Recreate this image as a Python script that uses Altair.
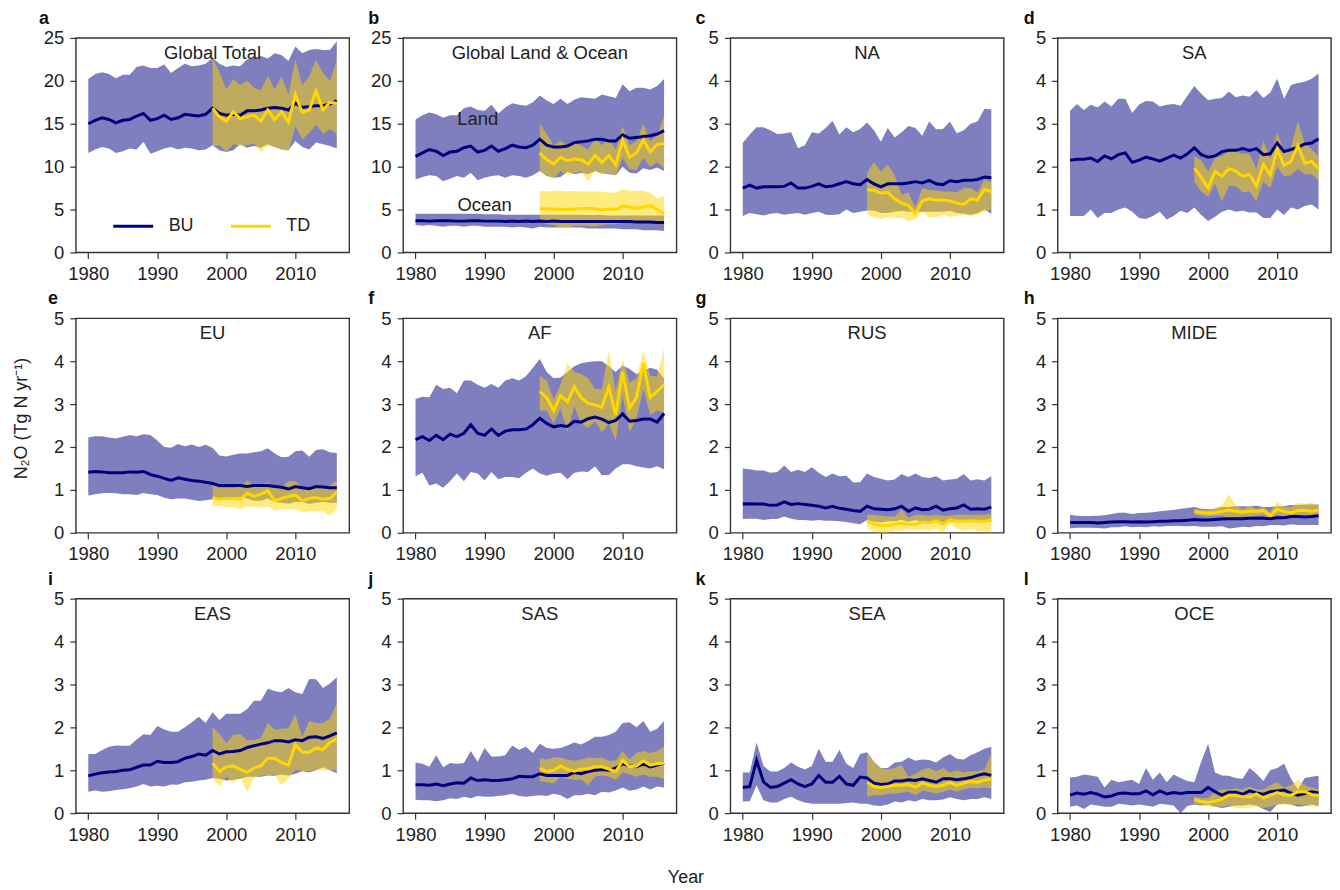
import altair as alt
import pandas as pd

years_bu = list(range(1980, 2017))
years_td = list(range(1998, 2017))

# a Global Total
a_bu = [15.0,15.4,15.7,15.5,15.1,15.4,15.5,15.9,16.2,15.4,15.6,16.0,15.5,15.7,16.1,16.0,15.9,16.1,16.8,16.2,16.0,16.1,16.0,16.5,16.5,16.6,16.8,16.9,16.8,16.6,17.4,16.9,17.0,17.1,17.1,17.3,17.7]
a_bu_hi = [20.2,20.8,21.0,20.8,20.3,20.7,20.7,21.6,21.8,21.5,21.5,21.9,20.9,21.5,22.0,21.7,21.8,22.0,22.7,22.0,21.6,21.8,21.7,22.5,22.7,22.9,22.6,23.2,23.0,22.3,24.0,23.2,23.6,23.7,23.6,23.6,24.6]
a_bu_lo = [11.6,12.0,12.3,12.1,11.6,11.8,12.1,12.0,12.9,11.5,11.8,12.1,12.3,12.0,12.2,12.1,11.9,12.0,12.5,11.9,11.7,11.9,12.6,12.2,12.4,12.2,12.6,12.3,12.0,11.9,13.0,12.3,12.0,12.8,12.6,12.4,12.1]
a_td = [16.8,15.8,15.3,16.4,15.6,15.8,16.0,15.3,16.6,15.5,16.4,15.2,18.4,16.3,16.6,18.8,16.6,17.5,17.4]
a_td_hi = [22.7,21.0,19.0,20.2,19.5,20.0,19.2,18.9,20.6,19.0,20.5,18.4,22.5,19.5,20.5,22.5,20.9,20.0,22.4]
a_td_lo = [12.4,12.5,11.7,12.6,12.4,12.5,12.7,11.7,12.4,12.3,12.0,11.8,14.7,13.2,13.9,14.9,13.8,14.4,13.8]

# b Land
bl_bu = [11.2,11.6,12.0,11.8,11.3,11.7,11.8,12.2,12.4,11.7,11.9,12.4,11.8,12.1,12.5,12.3,12.2,12.5,13.2,12.5,12.3,12.3,12.4,12.8,12.9,13.0,13.2,13.2,13.0,13.0,13.7,13.3,13.4,13.5,13.6,13.8,14.2]
bl_bu_hi = [15.5,16.0,16.3,16.1,15.7,16.0,16.0,16.8,17.0,16.6,16.5,17.2,16.2,16.9,17.4,17.2,17.1,17.5,18.3,17.7,17.3,17.9,17.3,17.8,18.1,18.0,17.9,18.4,18.2,18.0,19.6,18.8,19.2,19.2,19.0,19.4,20.2]
bl_bu_lo = [8.5,8.8,9.0,8.9,8.3,8.6,8.9,8.7,9.3,8.4,8.7,8.9,9.0,8.7,9.0,8.9,8.7,9.0,9.5,8.9,8.7,8.8,9.4,9.1,9.3,9.1,9.5,9.2,9.1,9.0,10.0,9.3,9.2,9.8,9.6,9.9,9.5]
bl_td = [11.6,10.8,10.3,11.1,10.7,10.9,10.8,10.3,11.3,10.5,11.3,10.2,13.1,11.1,11.6,13.1,11.7,12.6,12.7]
bl_td_hi = [15.0,13.8,12.5,13.0,12.5,12.9,12.5,12.0,13.3,12.5,13.3,12.0,14.7,12.5,13.0,15.0,13.0,13.6,16.0]
bl_td_lo = [9.5,9.0,8.6,9.5,9.0,9.2,9.5,8.3,9.5,9.1,9.2,9.0,11.0,9.7,9.6,11.0,10.0,10.5,9.8]

# b Ocean
bo_bu = [3.7,3.7,3.65,3.7,3.7,3.7,3.65,3.65,3.7,3.7,3.65,3.65,3.65,3.6,3.65,3.6,3.65,3.6,3.65,3.6,3.65,3.6,3.6,3.6,3.6,3.6,3.6,3.6,3.6,3.6,3.6,3.6,3.55,3.55,3.55,3.5,3.5]
bo_bu_hi = [4.5,4.5,4.5,4.5,4.5,4.5,4.5,4.5,4.5,4.5,4.45,4.45,4.45,4.4,4.4,4.4,4.4,4.4,4.4,4.4,4.4,4.4,4.4,4.4,4.4,4.35,4.35,4.35,4.3,4.3,4.3,4.3,4.3,4.3,4.3,4.3,4.3]
bo_bu_lo = [3.2,3.1,3.2,3.1,3.0,3.1,3.1,3.0,3.1,3.1,3.0,3.0,3.0,3.0,2.9,3.0,2.9,2.8,3.0,2.9,2.9,2.9,2.9,2.9,2.9,2.8,2.8,2.8,2.8,2.8,2.7,2.7,2.7,2.6,2.6,2.6,2.5]
bo_td = [5.1,5.1,5.05,5.0,5.0,5.05,5.1,5.15,5.1,4.95,5.05,5.0,5.4,5.3,5.15,5.3,5.45,5.0,4.5]
bo_td_hi = [7.2,7.1,7.2,7.2,7.1,7.2,7.1,7.1,7.1,7.1,7.0,7.0,7.4,7.2,7.2,7.2,7.0,6.3,6.6]
bo_td_lo = [3.6,3.3,3.2,2.9,2.8,3.1,3.1,3.1,3.0,3.2,3.3,3.3,3.5,3.5,3.5,3.5,3.6,3.6,3.3]

# c NA
c_bu = [1.5,1.57,1.5,1.53,1.53,1.53,1.54,1.62,1.5,1.5,1.54,1.6,1.53,1.55,1.6,1.65,1.6,1.58,1.7,1.6,1.53,1.6,1.6,1.6,1.62,1.65,1.62,1.68,1.6,1.58,1.67,1.65,1.68,1.68,1.7,1.76,1.74]
c_bu_hi = [2.55,2.75,2.92,2.92,2.85,2.76,2.77,2.8,2.43,2.5,2.8,2.77,2.9,3.07,2.75,2.92,2.8,2.88,3.03,2.85,2.58,2.9,2.68,2.8,2.95,2.9,2.72,3.05,2.87,2.88,3.05,2.78,2.85,3.0,3.05,3.35,3.33]
c_bu_lo = [0.85,0.92,0.89,0.86,0.9,0.92,0.88,0.9,0.92,0.88,0.92,0.95,0.88,0.87,0.89,1.0,0.92,0.95,0.98,0.98,0.92,0.92,0.95,0.97,0.95,0.95,0.95,0.95,0.95,0.95,0.97,0.92,0.9,0.88,0.92,1.0,0.9]
c_td = [1.46,1.45,1.38,1.4,1.25,1.15,1.1,0.9,1.2,1.25,1.22,1.22,1.2,1.15,1.12,1.25,1.22,1.47,1.42]
c_td_hi = [1.85,2.1,1.88,2.05,1.8,1.35,1.4,1.05,1.5,1.45,1.45,1.42,1.42,1.4,1.5,1.5,1.4,1.7,1.65]
c_td_lo = [0.88,0.82,0.78,0.82,0.8,0.8,0.73,0.76,0.95,0.82,0.82,0.87,0.83,0.85,0.88,0.85,0.88,0.95,1.0]

# d SA
d_bu = [2.15,2.17,2.17,2.2,2.12,2.25,2.18,2.28,2.32,2.1,2.15,2.22,2.18,2.13,2.2,2.27,2.2,2.3,2.44,2.28,2.22,2.25,2.35,2.38,2.38,2.42,2.38,2.42,2.28,2.3,2.55,2.35,2.4,2.45,2.53,2.55,2.65]
d_bu_hi = [3.3,3.46,3.32,3.44,3.38,3.52,3.4,3.58,3.58,3.25,3.45,3.53,3.52,3.4,3.44,3.46,3.42,3.65,3.88,3.7,3.55,3.58,3.6,3.75,3.62,3.66,3.63,3.78,3.6,3.72,4.05,3.58,3.9,3.95,3.98,4.05,4.17]
d_bu_lo = [0.85,0.85,0.85,1.0,0.8,0.92,0.92,1.0,1.05,0.95,0.8,0.78,0.85,0.95,0.77,0.85,0.97,0.92,1.05,0.87,0.73,0.83,0.95,1.0,0.95,0.97,0.93,0.93,0.8,0.8,1.0,0.87,1.05,1.0,1.08,1.12,1.0]
d_td = [1.97,1.75,1.5,1.88,1.78,1.95,1.9,1.78,1.82,1.55,2.05,1.8,2.4,2.03,2.12,2.5,2.08,2.12,1.95]
d_td_hi = [2.25,2.15,1.88,2.2,2.25,2.35,2.35,2.3,2.3,1.95,2.6,2.2,2.8,2.35,2.45,3.05,2.55,2.4,2.25]
d_td_lo = [1.65,1.42,1.3,1.6,1.18,1.55,1.55,1.4,1.42,1.2,1.65,1.5,2.0,1.78,1.8,1.95,1.82,1.82,1.68]

# e EU
e_bu = [1.41,1.43,1.42,1.4,1.4,1.4,1.42,1.41,1.43,1.36,1.32,1.27,1.22,1.28,1.25,1.22,1.2,1.18,1.15,1.1,1.1,1.1,1.1,1.08,1.1,1.1,1.1,1.08,1.06,1.02,1.08,1.05,1.03,1.08,1.07,1.05,1.05]
e_bu_hi = [2.22,2.25,2.25,2.22,2.2,2.24,2.28,2.25,2.3,2.28,2.15,2.0,1.98,2.07,2.02,2.06,2.0,2.05,1.98,1.8,1.78,1.82,1.85,1.85,1.88,1.9,1.97,1.85,1.76,1.77,1.9,1.92,1.77,1.93,1.95,1.88,1.86]
e_bu_lo = [0.87,0.9,0.92,0.93,0.92,0.9,0.9,0.88,0.93,0.9,0.88,0.82,0.78,0.8,0.8,0.77,0.74,0.76,0.78,0.82,0.8,0.82,0.83,0.8,0.75,0.75,0.8,0.72,0.7,0.68,0.72,0.72,0.67,0.7,0.72,0.7,0.7]
e_td = [0.82,0.78,0.8,0.8,0.78,0.92,0.85,0.9,0.98,0.75,0.8,0.85,0.88,0.75,0.8,0.82,0.78,0.8,0.95]
e_td_hi = [1.1,1.05,1.05,1.05,1.08,1.22,1.12,1.13,1.18,1.05,1.05,1.2,1.2,1.05,1.05,1.08,1.05,1.1,1.22]
e_td_lo = [0.6,0.63,0.6,0.6,0.55,0.62,0.6,0.58,0.62,0.52,0.55,0.55,0.55,0.48,0.5,0.5,0.5,0.4,0.55]

# f AF
f_bu = [2.17,2.24,2.15,2.27,2.17,2.3,2.24,2.32,2.52,2.32,2.27,2.42,2.27,2.37,2.4,2.4,2.42,2.52,2.67,2.55,2.47,2.5,2.48,2.6,2.58,2.66,2.7,2.65,2.57,2.62,2.77,2.6,2.62,2.65,2.65,2.58,2.78]
f_bu_hi = [3.12,3.17,3.16,3.45,3.35,3.38,3.25,3.55,3.55,3.45,3.38,3.47,3.38,3.55,3.6,3.55,3.65,3.85,4.05,3.75,3.6,3.62,3.75,3.88,3.95,3.98,4.0,4.0,3.88,3.75,3.9,3.82,3.7,3.78,3.85,3.8,3.6]
f_bu_lo = [1.32,1.4,1.1,1.15,1.05,1.2,1.38,1.2,1.42,1.38,1.22,1.42,1.25,1.3,1.3,1.27,1.4,1.5,1.38,1.33,1.38,1.4,1.25,1.4,1.43,1.42,1.55,1.34,1.35,1.5,1.6,1.6,1.55,1.52,1.5,1.55,1.48]
f_td = [3.3,3.15,2.85,3.2,3.05,3.4,3.15,3.02,2.98,2.93,3.4,2.75,3.75,2.9,3.15,3.95,3.15,3.3,3.45]
f_td_hi = [3.65,3.55,3.1,3.45,3.95,3.75,3.7,3.6,3.35,3.35,4.25,3.3,4.05,3.5,3.6,4.25,3.65,3.65,4.3]
f_td_lo = [2.85,2.85,2.55,2.9,2.35,2.95,2.55,2.45,2.6,2.35,2.55,2.15,3.2,2.35,2.65,3.35,2.75,2.85,2.8]

# g RUS
g_bu = [.67,.68,.67,.67,.64,.65,.72,.66,.68,.66,.64,.62,.58,.62,.57,.55,.52,.5,.62,.56,.55,.54,.56,.62,.5,.58,.54,.55,.62,.53,.56,.58,.65,.55,.56,.55,.6]
g_bu_hi = [1.5,1.48,1.45,1.45,1.4,1.42,1.57,1.42,1.47,1.42,1.53,1.4,1.3,1.38,1.32,1.33,1.17,1.18,1.38,1.3,1.26,1.22,1.24,1.37,1.3,1.38,1.3,1.28,1.32,1.22,1.24,1.26,1.37,1.22,1.25,1.22,1.32]
g_bu_lo = [.32,.33,.33,.3,.32,.32,.38,.33,.3,.3,.28,.3,.28,.28,.27,.25,.22,.2,.3,.26,.24,.27,.27,.3,.25,.3,.25,.25,.28,.25,.26,.25,.25,.25,.26,.25,.26]
g_td = [.28,.2,.17,.17,.2,.22,.2,.2,.25,.23,.28,.2,.3,.27,.27,.28,.27,.27,.3]
g_td_hi = [.42,.42,.4,.38,.38,.55,.35,.42,.42,.4,.42,.4,.4,.42,.42,.42,.42,.42,.45]
g_td_lo = [.1,.02,0,0,.05,.05,.08,.05,.08,.05,.1,0,.22,.1,.05,.08,.05,.03,0]

# h MIDE
h_bu = [.24,.24,.24,.24,.23,.24,.25,.26,.26,.25,.26,.25,.26,.27,.27,.28,.28,.29,.31,.3,.3,.31,.32,.33,.33,.33,.34,.34,.34,.33,.35,.35,.38,.38,.37,.38,.4]
h_bu_hi = [.42,.4,.39,.39,.4,.41,.44,.47,.47,.44,.46,.47,.48,.5,.52,.53,.56,.58,.6,.56,.55,.56,.6,.6,.62,.62,.62,.63,.6,.6,.62,.62,.65,.65,.66,.66,.66]
h_bu_lo = [.1,.12,.12,.12,.11,.1,.13,.13,.15,.13,.14,.13,.15,.14,.16,.16,.16,.15,.16,.14,.14,.14,.15,.1,.12,.14,.13,.16,.15,.18,.18,.17,.2,.18,.18,.18,.18]
h_td = [.5,.47,.46,.47,.5,.53,.5,.48,.5,.5,.52,.4,.55,.5,.47,.52,.52,.5,.53]
h_td_hi = [.55,.55,.52,.58,.65,.9,.65,.55,.65,.55,.6,.48,.72,.6,.6,.7,.68,.7,.65]
h_td_lo = [.42,.4,.38,.4,.4,.35,.36,.38,.38,.4,.42,.32,.42,.38,.38,.38,.38,.38,.42]

# i EAS
i_bu = [.87,.91,.94,.96,.97,1.0,1.01,1.07,1.12,1.12,1.21,1.18,1.18,1.2,1.28,1.32,1.38,1.35,1.46,1.38,1.43,1.44,1.46,1.53,1.57,1.61,1.64,1.69,1.69,1.66,1.71,1.69,1.77,1.78,1.74,1.8,1.87]
i_bu_hi = [1.38,1.38,1.47,1.55,1.58,1.57,1.57,1.72,1.84,1.82,2.03,1.95,1.9,1.9,2.0,2.12,2.25,2.1,2.35,2.17,2.32,2.32,2.32,2.42,2.62,2.62,2.9,2.85,2.82,2.92,2.82,2.78,3.13,3.12,2.92,3.02,3.17]
i_bu_lo = [.5,.53,.5,.51,.54,.56,.58,.62,.68,.62,.64,.62,.67,.66,.72,.73,.76,.78,.82,.8,.76,.78,.8,.85,.85,.85,.88,.87,.9,.88,.92,.98,.95,1.0,1.07,1.0,.93]
i_td = [1.17,.97,1.08,1.1,1.02,.95,1.05,1.1,1.28,1.28,1.18,1.12,1.6,1.42,1.42,1.52,1.48,1.65,1.73]
i_td_hi = [2.0,1.85,1.63,1.82,1.85,1.7,1.7,1.75,2.1,1.95,1.97,1.98,2.3,1.78,2.15,2.1,2.1,2.2,2.57]
i_td_lo = [.82,.62,.85,.7,.83,.5,.82,.88,.88,.9,.65,.8,1.02,.98,.98,1.0,1.0,1.0,1.0]

# j SAS
j_bu = [.66,.66,.65,.68,.64,.68,.71,.7,.82,.76,.78,.76,.76,.78,.8,.86,.85,.85,.92,.88,.88,.88,.88,.95,.92,.97,1.0,1.02,1.0,1.05,1.15,1.1,1.08,1.15,1.08,1.12,1.17]
j_bu_hi = [1.18,1.15,1.08,1.35,1.07,1.17,1.15,1.17,1.45,1.2,1.52,1.32,1.32,1.35,1.58,1.48,1.55,1.4,1.62,1.52,1.5,1.52,1.58,1.65,1.6,1.68,1.78,1.78,1.82,1.9,2.1,2.12,2.0,2.15,1.9,1.97,2.15]
j_bu_lo = [.31,.3,.3,.28,.3,.35,.33,.38,.35,.4,.38,.38,.4,.42,.45,.4,.38,.4,.42,.4,.45,.42,.33,.42,.42,.45,.42,.5,.48,.53,.6,.52,.55,.62,.55,.62,.6]
j_td = [1.05,.97,1.0,1.1,1.02,.98,1.03,1.03,1.08,1.08,1.03,.97,1.23,1.08,1.1,1.22,1.12,1.15,1.17]
j_td_hi = [1.28,1.25,1.3,1.3,1.25,1.22,1.25,1.3,1.28,1.3,1.22,1.22,1.45,1.25,1.4,1.45,1.4,1.45,1.55]
j_td_lo = [.75,.72,.7,.85,.8,.78,.78,.65,.85,.88,.85,.78,.95,.9,.85,.9,.85,.85,.8]

# k SEA
k_bu = [.6,.62,1.23,.73,.6,.62,.7,.78,.68,.62,.68,.88,.72,.72,.86,.68,.65,.84,.82,.7,.67,.68,.75,.75,.78,.76,.8,.76,.72,.8,.8,.78,.8,.83,.88,.92,.88]
k_bu_hi = [.95,.95,1.65,1.1,.97,.97,1.05,1.18,1.08,1.02,1.1,1.5,1.2,1.2,1.48,1.15,1.05,1.38,1.42,1.2,1.05,1.05,1.18,1.2,1.3,1.22,1.25,1.24,1.18,1.3,1.38,1.27,1.25,1.35,1.42,1.5,1.55]
k_bu_lo = [.27,.28,.65,.3,.25,.25,.33,.38,.3,.25,.22,.22,.22,.22,.22,.24,.25,.22,.22,.18,.17,.2,.27,.25,.3,.27,.33,.3,.3,.32,.37,.33,.3,.33,.33,.37,.33]
k_td = [.72,.62,.6,.62,.65,.65,.67,.6,.7,.65,.62,.65,.72,.65,.7,.74,.72,.77,.8]
k_td_hi = [1.4,1.2,1.05,1.02,1.05,1.12,.85,.92,1.02,1.05,.98,1.05,.95,1.0,.95,.98,.98,1.02,1.38]
k_td_lo = [.38,.42,.42,.45,.45,.48,.5,.42,.52,.5,.45,.5,.55,.5,.55,.6,.58,.6,.58]

# l OCE
l_bu = [.42,.47,.44,.48,.44,.38,.4,.46,.47,.45,.45,.52,.43,.52,.45,.48,.46,.48,.48,.48,.6,.5,.42,.49,.49,.44,.52,.47,.44,.5,.52,.54,.47,.42,.46,.5,.47]
l_bu_hi = [.83,.85,.9,.88,.85,.6,.78,.72,.75,.78,.68,1.05,.78,.95,.72,.9,.82,.75,.72,1.2,1.62,.95,.88,.87,.82,.8,1.05,.92,.75,1.0,1.05,1.15,.8,.55,.82,.85,.87]
l_bu_lo = [.15,.18,.1,.2,.18,.15,.15,.22,.2,.18,.2,.18,.15,.22,.2,.18,0,.17,.2,.18,.2,.15,.12,.15,.18,.18,.2,.18,.1,.03,.2,.22,.2,.15,.17,.2,.17]
l_td = [.32,.27,.25,.28,.33,.42,.42,.38,.38,.45,.35,.42,.48,.43,.42,.5,.5,.43,.42]
l_td_hi = [.38,.35,.35,.5,.55,.55,.58,.55,.62,.55,.55,.65,.72,.6,.65,.78,.65,.6,.55]
l_td_lo = [.22,.2,.15,.15,.15,.18,.12,.12,.12,.15,.12,.15,.2,.2,.18,.2,.18,.15,.15]

panels = [
    ("a", "Global Total", 25, -37, [(a_bu,a_bu_lo,a_bu_hi,a_td,a_td_lo,a_td_hi)]),
    ("b", "Global Land & Ocean", 25, -35, [(bl_bu,bl_bu_lo,bl_bu_hi,bl_td,bl_td_lo,bl_td_hi),(bo_bu,bo_bu_lo,bo_bu_hi,bo_td,bo_td_lo,bo_td_hi)]),
    ("c", "NA", 5, -35, [(c_bu,c_bu_lo,c_bu_hi,c_td,c_td_lo,c_td_hi)]),
    ("d", "SA", 5, -34, [(d_bu,d_bu_lo,d_bu_hi,d_td,d_td_lo,d_td_hi)]),
    ("e", "EU", 5, -28, [(e_bu,e_bu_lo,e_bu_hi,e_td,e_td_lo,e_td_hi)]),
    ("f", "AF", 5, -35, [(f_bu,f_bu_lo,f_bu_hi,f_td,f_td_lo,f_td_hi)]),
    ("g", "RUS", 5, -35, [(g_bu,g_bu_lo,g_bu_hi,g_td,g_td_lo,g_td_hi)]),
    ("h", "MIDE", 5, -34, [(h_bu,h_bu_lo,h_bu_hi,h_td,h_td_lo,h_td_hi)]),
    ("i", "EAS", 5, -28, [(i_bu,i_bu_lo,i_bu_hi,i_td,i_td_lo,i_td_hi)]),
    ("j", "SAS", 5, -35, [(j_bu,j_bu_lo,j_bu_hi,j_td,j_td_lo,j_td_hi)]),
    ("k", "SEA", 5, -35, [(k_bu,k_bu_lo,k_bu_hi,k_td,k_td_lo,k_td_hi)]),
    ("l", "OCE", 5, -34, [(l_bu,l_bu_lo,l_bu_hi,l_td,l_td_lo,l_td_hi)]),
]

annotations = [("Land", 1989.0, 15.6), ("Ocean", 1990.0, 5.5)]

NAVY = "#00007f"
GOLD = "#ffd700"
FONT = "Liberation Sans"
X_DOMAIN = [1978.2, 2017.8]


def panel(letter, name, ymax, dx, groups):
    x_title = "Year" if letter == "j" else None
    y_title = "N\u2082O (Tg N yr\u207b\u00b9)" if letter == "e" else None
    x_axis = alt.Axis(values=[1980, 1990, 2000, 2010], format="d", title=x_title,
                      titleX=283, titleY=55, titleAlign="center", titleFontWeight="normal", titleFontSize=18)
    y_axis = alt.Axis(values=list(range(0, ymax + 1, ymax // 5)), title=y_title,
                      titleX=-45, titleY=100, titleFontWeight="normal", titleFontSize=18)
    x = alt.X("year:Q", scale=alt.Scale(domain=X_DOMAIN, nice=False, zero=False), axis=x_axis)
    y = alt.Y("lo:Q", scale=alt.Scale(domain=[0, ymax], nice=False), axis=y_axis)
    legend = None
    if letter == "a":
        legend = alt.Legend(title=None, orient="none", legendX=36, legendY=167,
                            direction="horizontal", columns=2, columnPadding=30,
                            symbolType="stroke", symbolSize=1600, symbolStrokeWidth=3,
                            symbolOpacity=1, labelFontSize=18, labelFont=FONT, labelOffset=14,
                            labelColor="#222222")
    color = alt.Color("series:N", scale=alt.Scale(domain=["BU", "TD"], range=[NAVY, GOLD]), legend=legend)

    bands, lines = [], []
    for bu, bu_lo, bu_hi, td, td_lo, td_hi in groups:
        df_bu = pd.DataFrame({"year": years_bu, "mean": bu, "lo": bu_lo, "hi": bu_hi, "series": "BU"})
        df_td = pd.DataFrame({"year": years_td, "mean": td, "lo": td_lo, "hi": td_hi, "series": "TD"})
        bands.append(alt.Chart(df_bu).mark_area(color=NAVY, opacity=0.5).encode(x=x, y=y, y2="hi:Q"))
        bands.append(alt.Chart(df_td).mark_area(color=GOLD, opacity=0.5).encode(x=x, y=y, y2="hi:Q"))
        lines.append(alt.Chart(df_bu).mark_line(strokeWidth=3).encode(x=x, y=alt.Y("mean:Q"), color=color))
        lines.append(alt.Chart(df_td).mark_line(strokeWidth=3).encode(x=x, y=alt.Y("mean:Q"), color=color))

    label_rows = [{"year": 1998.0, "val": ymax * 0.93, "txt": name}]
    if letter == "b":
        label_rows += [{"year": a[1], "val": a[2], "txt": a[0]} for a in annotations]
    labels = alt.Chart(pd.DataFrame(label_rows)).mark_text(fontSize=18.5, font=FONT, color="#222222").encode(
        x="year:Q", y="val:Q", text="txt:N")

    return alt.layer(*bands, *lines, labels).properties(
        width=274, height=215,
        title=alt.TitleParams(letter, anchor="start", frame="group", dx=dx, offset=1,
                              fontSize=18, fontWeight="bold", font=FONT, color="#111111"),
    )


charts = [panel(*p) for p in panels]

chart = alt.concat(*charts, columns=4, spacing={"row": 66, "column": 54}, bounds="flush").resolve_scale(
    color="independent"
).configure_view(stroke="#333333", strokeWidth=1.4).configure_axis(
    labelFont=FONT, titleFont=FONT, labelFontSize=18.5, labelColor="#222222", titleColor="#222222",
    tickColor="#333333", tickSize=6, tickWidth=1.2, labelPadding=6, domain=False, grid=False,
    labelFlush=False,
).properties(padding={"left": 4, "top": 0, "right": 0, "bottom": 0})

chart.save("out.html", embed_options={"renderer": "svg", "actions": False})
